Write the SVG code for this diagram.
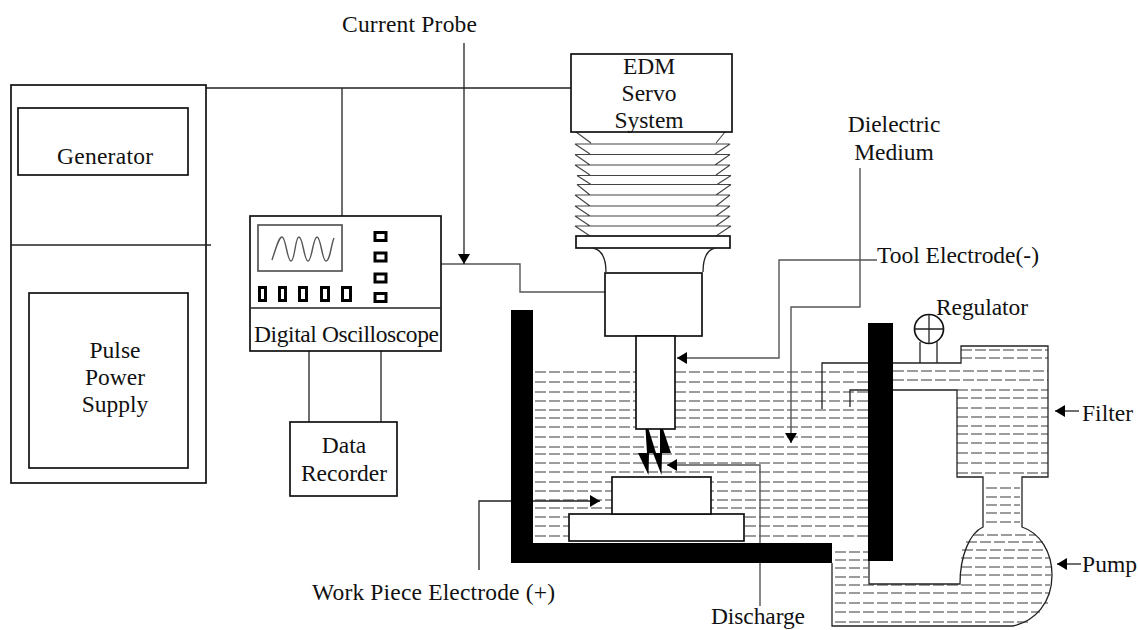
<svg xmlns="http://www.w3.org/2000/svg" width="1138" height="630" viewBox="0 0 1138 630">
<style>
text{font-family:"Liberation Serif","Times New Roman",serif;font-size:23.500px;fill:#111}
.m{text-anchor:middle}
.b{fill:#fff;stroke:#111;stroke-width:1.700}
.l{fill:none;stroke:#222;stroke-width:1.300}
.f{fill:none;stroke:#444;stroke-width:1.100}
.g{fill:none;stroke:#555;stroke-width:1.400}
.w{fill:#000}
.d{fill:none;stroke:#3a3a3a;stroke-width:1.200;stroke-dasharray:11 3}
.k{fill:#fff;stroke:#000;stroke-width:3}
</style>
<defs>
<marker id="a" markerUnits="userSpaceOnUse" markerWidth="11" markerHeight="12" refX="10" refY="6" orient="auto"><path d="M0 0L10 6L0 12Z" fill="#000"/></marker>
</defs>
<g id="liquid">
<path class="d" d="M535 372H868M535 382H868M535 392H868M535 401H868M535 410H868M535 418H868M535 427H868M535 437H868M535 447H868M535 454H868M535 463H868M535 472H868M535 482H868M535 491H868M535 500H868M535 508H868M535 517H868M535 526H868M535 536H868"/>
<path class="d" d="M961 350H1048M961 358H1048M893 371H1048M893 380H1048M957 390H1048M957 398H1048M957 408H1048M957 417H1048M957 426H1048M957 434H1048M957 443H1048M957 453H1048M957 463H1048M957 473H1048"/>
<path class="d" d="M986 488H1020M986 497H1020M986 505H1020M986 513H1020M986 522H1020M973 535H1036M966 542H1043M962 550H1047M961 558H1049M961 567H1051M961 575H1051"/>
<path class="d" d="M835 552H868M835 560H868M835 568H868M835 577H868M835 585H1050M835 593H1050M835 603H1048M835 612H1040M835 622H1028"/>
</g>
<g id="connectors">
<path class="l" d="M206 88H571M342 88V216M309 351V422M381 351V422"/>
<path class="g" d="M441 264H520V292H605"/>
<path class="l" d="M464 43V264" marker-end="url(#a)"/>
<path class="g" d="M877 260H779V358H677" marker-end="url(#a)"/>
<path class="g" d="M860 168V307H791V443" marker-end="url(#a)"/>
<path class="g" d="M760 606V465H667" marker-end="url(#a)"/>
<path class="l" d="M479 570V501H600" marker-end="url(#a)"/>
<path class="l" d="M1079 411H1055" marker-end="url(#a)"/>
<path class="l" d="M1081 564H1057" marker-end="url(#a)"/>
</g>
<g id="power-supply">
<rect class="b" x="11" y="85" width="195" height="398"/>
<path class="l" d="M11 245H211"/>
</g>
<g id="generator">
<rect class="b" x="18" y="108" width="170" height="67"/>
<text class="m" x="105" y="164" textLength="96">Generator</text>
</g>
<g id="pulse-power-supply">
<rect class="b" x="29" y="293" width="159" height="175"/>
<text class="m" x="115" y="358">Pulse</text>
<text class="m" x="115" y="385">Power</text>
<text class="m" x="115" y="412">Supply</text>
</g>
<g id="oscilloscope">
<rect class="b" x="250" y="216" width="191" height="135"/>
<path class="l" d="M250 308H441"/>
<rect x="258" y="225" width="84" height="46" fill="#fff" stroke="#555" stroke-width="1.700"/>
<path class="g" d="M272 260C277 245 279 237 282 237C286 237 287 261 291 261C295 261 295 237 299 237C303 237 304 261 308 261C312 261 313 237 317 237C321 237 322 261 326 261C330 261 331 245 334 238"/>
<rect class="k" x="375" y="232.500" width="11" height="8"/><rect class="k" x="375" y="253" width="11" height="8"/><rect class="k" x="375" y="274" width="11" height="8"/><rect class="k" x="375" y="293.500" width="11" height="8"/>
<rect class="k" x="259.500" y="287.500" width="6" height="13"/><rect class="k" x="279.500" y="287.500" width="6" height="13"/><rect class="k" x="299.500" y="287.500" width="7" height="13"/><rect class="k" x="321.500" y="287.500" width="7" height="13"/><rect class="k" x="342.500" y="287.500" width="8" height="13"/>
<text x="254" y="342" textLength="185">Digital Oscilloscope</text>
</g>
<g id="data-recorder">
<rect class="b" x="290" y="422" width="107" height="74"/>
<text class="m" x="344" y="453">Data</text>
<text class="m" x="344" y="481">Recorder</text>
</g>
<g id="servo">
<path class="f" d="M576 132L591 143M725 132L716 143M575 144H730M575 144L590 154M730 144L715 154M575 154.500H730M575 154.500L590 165M730 154.500L715 165M575 165H730M577 175.500H731M575 165L590 175M730 165L716 175M577 175.500L591 184.500M731 175.500L717 184.500M577 184.500H731M575 195H730M577 184.500L590 195M731 184.500L716 195M575 195L590 206M730 195L716 206M575 206H730M575 206L590 216M730 206L716 216M575 216H730M575 216L590 226M730 216L716 226M575 226H731M575 226L590 236M731 226L716 236"/>
<rect class="b" x="576" y="236" width="154" height="12"/>
<path class="l" d="M593 248C602 250 606 258 606 272M715 248C707 250 703 258 703 272"/>
<rect class="b" x="571" y="54" width="161" height="78"/>
<text class="m" x="649" y="74">EDM</text>
<text class="m" x="649" y="101">Servo</text>
<text class="m" x="649" y="128">System</text>
</g>
<g id="tool-holder"><rect class="b" x="605" y="273" width="97" height="63"/></g>
<g id="tool-electrode"><rect class="b" x="636" y="336" width="39" height="93"/></g>
<g id="discharge-spark">
<path fill="#000" d="M645.500 429H648.500L656 453H649L648.500 475L638 453H647Z"/>
<path fill="#000" d="M660 429H663L671 453H662L661.500 475L653 453H660Z"/>
</g>
<g id="work-table"><rect class="b" x="569" y="514" width="175" height="27"/></g>
<g id="work-piece"><rect class="b" x="612" y="477" width="99" height="37"/></g>
<g id="tank">
<path class="w" d="M511 310H533V543H832V563H511Z"/>
<rect class="w" x="868" y="323" width="25" height="238"/>
</g>
<g id="circuit">
<path class="l" d="M868 363H822V409M868 390H850V407"/>
<path class="l" d="M893 363H961V346H1048V477H1022V527C1040 533 1052 552 1052 575C1052 603 1035 621 1013 626H832V563M893 390H957V477H983V527C970 533 960 555 960 584H869V561"/>
</g>
<g id="regulator">
<circle cx="929" cy="329" r="14.500" fill="#fff" stroke="#111" stroke-width="1.700"/>
<path class="l" d="M914.500 329H943.500M929 314.500V343.500M920 342V363M937 342V363"/>
</g>
<g id="labels">
<text x="342" y="32" textLength="135">Current Probe</text>
<text class="m" x="894" y="132">Dielectric</text>
<text class="m" x="894" y="160">Medium</text>
<text x="877" y="263" textLength="162">Tool Electrode(-)</text>
<text x="936" y="315" textLength="92">Regulator</text>
<text x="1082" y="421" textLength="51">Filter</text>
<text x="1082" y="572" textLength="55">Pump</text>
<text x="312" y="600" textLength="243">Work Piece Electrode (+)</text>
<text x="711" y="624" textLength="94">Discharge</text>
</g>
</svg>
